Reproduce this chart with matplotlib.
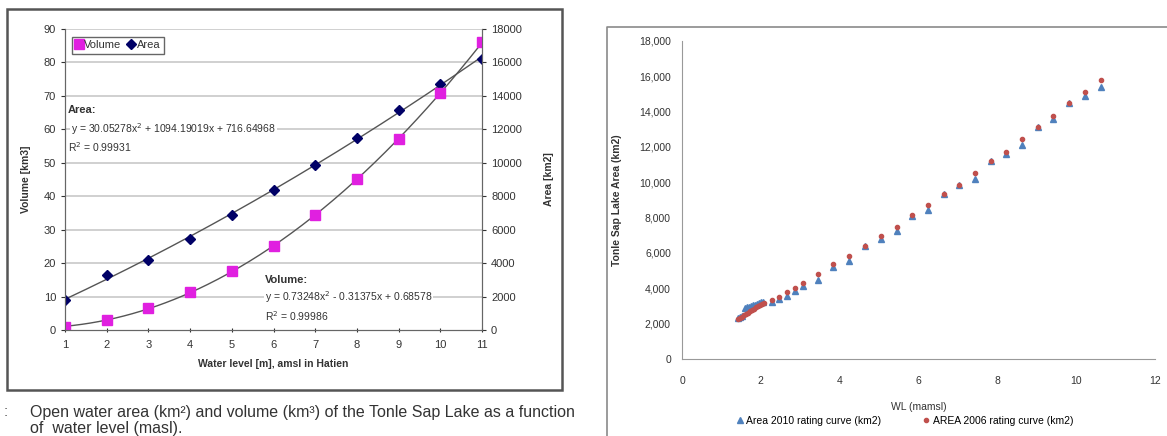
import numpy as np
import matplotlib
matplotlib.use("Agg")
import matplotlib.pyplot as plt
from matplotlib.patches import Rectangle
from matplotlib.lines import Line2D
from matplotlib.ticker import StrMethodFormatter

# left chart: Hatien water level vs volume / area
level = [1, 2, 3, 4, 5, 6, 7, 8, 9, 10, 11]
volume = [0.9, 3.0, 6.5, 11.5, 17.5, 25.0, 34.3, 45.0, 57.0, 71.0, 86.0]
area = [1800, 3260, 4200, 5440, 6900, 8400, 9860, 11460, 13160, 14700, 16200]

# right chart: rating curves
wl_2010 = [1.43, 1.48, 1.53, 1.60, 1.65, 1.70, 1.75, 1.80, 1.85, 1.90, 1.95, 2.00, 2.05,
           2.28, 2.47, 2.67, 2.87, 3.06, 3.46, 3.84, 4.24, 4.64, 5.04, 5.45, 5.84,
           6.24, 6.64, 7.03, 7.44, 7.83, 8.23, 8.63, 9.02, 9.42, 9.82, 10.23, 10.63]
area_2010 = [2300, 2380, 2450, 2870, 2930, 2970, 3010, 3050, 3080, 3120, 3160, 3200, 3250,
             3245, 3400, 3585, 3850, 4135, 4475, 5230, 5550, 6400, 6800, 7250, 8100,
             8440, 9350, 9875, 10215, 11180, 11600, 12140, 13130, 13600, 14490, 14860, 15370]
wl_2006 = [1.43, 1.48, 1.53, 1.58, 1.63, 1.68, 1.73, 1.78, 1.83, 1.88, 1.93, 1.98, 2.04, 2.09,
           2.28, 2.47, 2.67, 2.87, 3.06, 3.46, 3.84, 4.24, 4.64, 5.04, 5.45, 5.84,
           6.24, 6.64, 7.03, 7.44, 7.83, 8.23, 8.63, 9.02, 9.42, 9.82, 10.23, 10.63]
area_2006 = [2250, 2330, 2400, 2480, 2560, 2630, 2700, 2780, 2850, 2920, 2990, 3060, 3120, 3160,
             3340, 3530, 3810, 4040, 4290, 4815, 5365, 5850, 6400, 6985, 7496, 8160,
             8725, 9350, 9875, 10520, 11180, 11745, 12450, 13130, 13730, 14490, 15090, 15790]

W, H = 1167, 436
plt.rcParams["font.family"] = ["Liberation Sans", "DejaVu Sans"]
fig = plt.figure(figsize=(W / 100, H / 100), dpi=100)


def px(x0, y0, x1, y1):
    return [x0 / W, 1 - y1 / H, (x1 - x0) / W, (y1 - y0) / H]


# ---- left chart ----
fig.patches.append(Rectangle((7 / W, 1 - 390 / H), 555 / W, 381 / H, transform=fig.transFigure,
                             fill=False, edgecolor="#555555", lw=1.8))
ax = fig.add_axes(px(65, 29, 482, 330))
ax2 = ax.twinx()
ax.set_zorder(ax2.get_zorder() + 1)
ax.patch.set_visible(False)

xs = np.linspace(1, 11, 200)
cv = np.polyfit(level, volume, 2)
ca = np.polyfit(level, area, 2)
ax.plot(xs, np.polyval(cv, xs), color="#555555", lw=1.0)
ax2.plot(xs, np.polyval(ca, xs), color="#555555", lw=1.0)
ax.plot(level, volume, "s", color="#e020e0", ms=7, ls="none")
ax2.plot(level, area, "D", color="#000066", ms=5, ls="none")

ax.set_xlim(1, 11)
ax.set_ylim(0, 90)
ax2.set_ylim(0, 18000)
ax.set_xticks(level)
ax.set_yticks(range(0, 91, 10))
ax2.set_yticks(range(0, 18001, 2000))
for y in range(10, 91, 10):
    ax2.axhline(y * 200, color="#c8c8c8", lw=1.2, zorder=0)
for s in ["top"]:
    ax.spines[s].set_visible(False)
    ax2.spines[s].set_visible(False)
for a in (ax, ax2):
    for s in a.spines.values():
        s.set_color("#666666")
ax.tick_params(axis="y", labelsize=8, length=3, colors="#333333")
ax.tick_params(axis="x", labelsize=8, length=3, direction="inout", colors="#333333", pad=6)
ax2.tick_params(axis="y", labelsize=8, length=3, colors="#333333")
ax.set_ylabel("Volume [km3]", fontsize=7.5, fontweight="bold", color="#333333", labelpad=9)
ax2.set_ylabel("Area [km2]", fontsize=7.5, fontweight="bold", color="#333333", labelpad=16)
ax.set_xlabel("Water level [m], amsl in Hatien", fontsize=7.5, fontweight="bold", color="#333333", labelpad=6)

handles = [Line2D([], [], marker="s", color="#e020e0", ls="none", ms=7),
           Line2D([], [], marker="D", color="#000066", ls="none", ms=5)]
leg = ax.legend(handles, ["Volume", "Area"], ncol=2, fontsize=8, loc="upper left",
                bbox_to_anchor=(72 / W, 1 - 37 / H), bbox_transform=fig.transFigure,
                handlelength=0.6, handletextpad=0.2, columnspacing=0.6,
                fancybox=False, framealpha=1, borderpad=0.3, borderaxespad=0)
leg.get_frame().set_edgecolor("#666666")
for t in leg.get_texts():
    t.set_color("#333333")

bg = dict(facecolor="white", edgecolor="none", pad=0.5)
tk = dict(fontsize=7.5, color="#333333", transform=fig.transFigure, va="center")
hd = dict(fontsize=8, fontweight="bold", color="#333333", transform=fig.transFigure, va="center")
fig.text(68 / W, 1 - 110 / H, "Area:", **hd)
fig.text(71 / W, 1 - 129 / H, "y = 30.05278x$^2$ + 1094.19019x + 716.64968", bbox=bg, **tk)
fig.text(68 / W, 1 - 147 / H, "R$^2$ = 0.99931", **tk)
fig.text(265 / W, 1 - 280 / H, "Volume:", **hd)
fig.text(265 / W, 1 - 297 / H, "y = 0.73248x$^2$ - 0.31375x + 0.68578", bbox=bg, **tk)
fig.text(265 / W, 1 - 316 / H, "R$^2$ = 0.99986", **tk)

fig.text(30 / W, 1 - 412 / H, "Open water area (km\u00b2) and volume (km\u00b3) of the Tonle Sap Lake as a function",
         fontsize=11.5, color="#333333", va="center")
fig.text(30 / W, 1 - 428 / H, "of  water level (masl).", fontsize=11.5, color="#333333", va="center")
fig.text(4 / W, 1 - 412 / H, ":", fontsize=11, color="#555555", va="center")

# ---- right chart ----
fig.lines.append(Line2D([607 / W, 607 / W, 1], [0, 1 - 27 / H, 1 - 27 / H], transform=fig.transFigure,
                        color="#8a8a8a", lw=1.2))
bx = fig.add_axes(px(682, 41, 1155, 359))
bx.plot(wl_2010, area_2010, "^", color="#4f81bd", ms=4.5, ls="none", label="Area 2010 rating curve (km2)")
bx.plot(wl_2006, area_2006, "o", color="#c0504d", ms=3, ls="none", label="AREA 2006 rating curve (km2)")
bx.set_xlim(0, 12)
bx.set_ylim(0, 18000)
bx.set_xticks(range(0, 13, 2))
bx.set_yticks(range(0, 18001, 2000))
bx.yaxis.set_major_formatter(StrMethodFormatter("{x:,.0f}"))
for s in ["top", "right"]:
    bx.spines[s].set_visible(False)
for s in ["left", "bottom"]:
    bx.spines[s].set_color("#999999")
bx.tick_params(length=0, labelsize=7.5, colors="#333333", pad=12)
bx.tick_params(axis="y", pad=8)
bx.set_xlabel("WL (mamsl)", fontsize=7.5, color="#333333", labelpad=12)
bx.set_ylabel("Tonle Sap Lake Area (km2)", fontsize=7.5, fontweight="bold", color="#333333", labelpad=12)
bx.legend(loc="center", bbox_to_anchor=(0.5 * (700 + 1110) / W, 1 - 421 / H), bbox_transform=fig.transFigure,
          ncol=2, frameon=False, fontsize=7.5, handlelength=0.6, handletextpad=0.3, columnspacing=4)

fig.savefig("out.png", dpi=100)
